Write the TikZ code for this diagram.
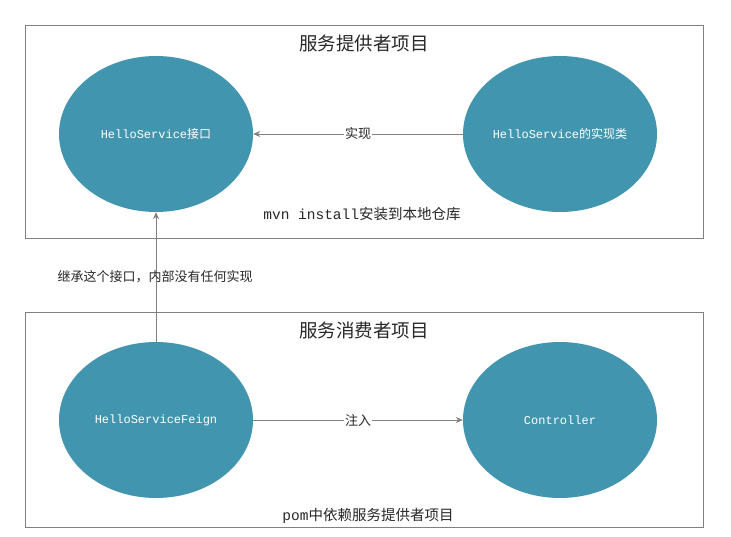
\documentclass[tikz,border=0pt]{standalone}
\usepackage{fontspec}
\setmainfont{Liberation Mono}
\newfontfamily\cjk{Noto Sans CJK SC}
\newfontfamily\mono{Liberation Mono}
\usetikzlibrary{shapes.geometric,arrows.meta}
\definecolor{teal1}{RGB}{66,149,174}
\definecolor{linegray}{RGB}{128,128,128}
\definecolor{txt}{RGB}{40,40,40}
\tikzset{
  frame/.style={draw=linegray, line width=0.8pt},
  ell/.style={ellipse, fill=teal1, minimum width=194pt, minimum height=156pt, inner sep=0pt, text=white, font=\mono\fontsize{12}{13}\selectfont},
  conn/.style={draw=linegray, line width=0.8pt, -{Stealth[length=7pt,width=6pt]}},
  lbl/.style={fill=white, inner sep=1pt, text=txt, font=\cjk\fontsize{13}{14}\selectfont},
  title/.style={text=txt, font=\cjk\fontsize{18.5}{20}\selectfont},
  note/.style={text=txt, font=\fontsize{14.5}{16}\selectfont}
}
\begin{document}
\begin{tikzpicture}[x=1pt,y=-1pt]
\useasboundingbox (0,0) rectangle (731,537);
\fill[white] (0,0) rectangle (731,537);
\node[frame, minimum width=678pt, minimum height=213pt, inner sep=0pt] (top) at (364,131.5) {};
\node[frame, minimum width=678pt, minimum height=215pt, inner sep=0pt] (bot) at (364,419.5) {};
\node[title] (t1) at (364,43) {服务提供者项目};
\node[title] (t2) at (364,330) {服务消费者项目};
\node[ell] (iface) at (156,134) {HelloService{\cjk 接口}};
\node[ell] (impl) at (560,134) {HelloService{\cjk 的实现类}};
\node[ell] (feign) at (156,420) {HelloServiceFeign};
\node[ell] (ctrl) at (560,420) {Controller};
\draw[conn] (impl) -- node[lbl] {实现} (iface);
\draw[conn] (feign) -- node[lbl] {注入} (ctrl);
\draw[conn] (feign) -- (iface);
\node[note] (n1) at (362,214) {mvn install{\cjk 安装到本地仓库}};
\node[note] (n2) at (368,516) {pom{\cjk 中依赖服务提供者项目}};
\node[text=txt, font=\cjk\fontsize{13}{14}\selectfont] (n3) at (155,277) {继承这个接口，内部没有任何实现};
\end{tikzpicture}
\end{document}
